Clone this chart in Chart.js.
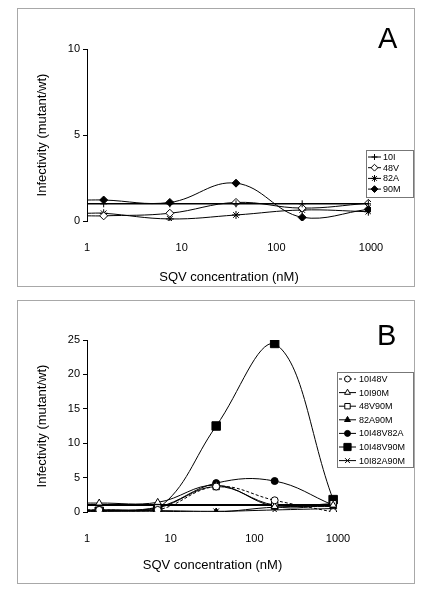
<!DOCTYPE html>
<html>
<head>
<meta charset="utf-8">
<script src="https://cdn.jsdelivr.net/npm/chart.js@4.4.1/dist/chart.umd.min.js"></script>
<style>
  body { margin: 0; background: #fff; width: 423px; height: 589px; position: relative; overflow: hidden; font-family: "Liberation Sans", Arial, sans-serif; }
  canvas { position: absolute; left: 0; }
  .box { position: absolute; border: 1px solid #a8a8a8; pointer-events: none; }
  .tag { position: absolute; font-size: 29px; line-height: 1; color: #000; }
</style>
</head>
<body>
<canvas id="chartA" width="423" height="291" style="top:0"></canvas>
<canvas id="chartB" width="423" height="298" style="top:291px"></canvas>
<div class="box" style="left:17px;top:8px;width:396px;height:277px"></div>
<div class="box" style="left:17px;top:300px;width:396px;height:282px"></div>
<div class="tag" style="left:378px;top:24px">A</div>
<div class="tag" style="left:377px;top:321px">B</div>
<script>
const FONT = "'Liberation Sans', Arial, sans-serif";

// panel A: single mutants (first point sits on the y axis, no marker)
const concA = [1, 1.5, 7.5, 37.5, 187.5, 937.5];
const mut10I = [1.0, 1.0, 1.0, 1.0, 1.0, 1.0];
const mut48V = [0.3, 0.3, 0.45, 1.08, 0.75, 1.03];
const mut82A = [0.45, 0.45, 0.12, 0.35, 0.64, 0.54];
const mut90M = [1.22, 1.22, 1.08, 2.2, 0.21, 0.68];

// panel B: double / triple mutants
const concB = [1, 1.4, 7, 35, 175, 875];
const m10I48V = [0.3, 0.3, 0.3, 3.7, 1.7, 0.0];
const m10I90M = [1.3, 1.3, 1.4, 3.9, 0.8, 1.0];
const m48V90M = [0.2, 0.2, 0.6, 3.7, 1.0, 1.2];
const m82A90M = [0.1, 0.1, 0.1, 0.0, 0.7, 0.8];
const m10I48V82A = [0.3, 0.3, 0.7, 4.2, 4.5, 1.0];
const m10I48V90M = [0.1, 0.1, 0.5, 12.5, 24.5, 1.8];
const m10I82A90M = [0.2, 0.2, 0.2, 0.1, 0.3, 0.5];
const wtConc = [1, 875];
const wtLevel = [1, 1];

const xTicks = [1, 10, 100, 1000];

function pts(xs, ys) {
  return xs.map((x, i) => ({ x: x, y: ys[i] }));
}

function series(label, xs, ys, style, fill, r, extra) {
  return Object.assign({
    label: label,
    data: pts(xs, ys),
    showLine: true,
    tension: 0.4,
    borderColor: "#000",
    borderWidth: 1,
    pointStyle: style,
    pointBackgroundColor: fill,
    pointBorderColor: "#000",
    pointBorderWidth: 1,
    pointRadius: xs.map((x, i) => (i === 0 ? 0 : r)),
    legendRadius: r,
  }, extra || {});
}

const boxLegend = {
  id: "boxLegend",
  afterDatasetsDraw(chart, args, o) {
    const ctx = chart.ctx;
    const items = chart.data.datasets.filter(d => !d.noLegend);
    ctx.save();
    ctx.fillStyle = "#fff";
    ctx.fillRect(o.x, o.y, o.w, o.h);
    ctx.strokeStyle = "#777";
    ctx.lineWidth = 1;
    ctx.strokeRect(o.x + 0.5, o.y + 0.5, o.w, o.h);
    items.forEach((ds, i) => {
      const cy = o.y + o.first + i * o.row;
      ctx.strokeStyle = "#000";
      ctx.lineWidth = 1;
      ctx.setLineDash(ds.borderDash || []);
      ctx.beginPath();
      ctx.moveTo(o.lx0, cy);
      ctx.lineTo(o.lx1, cy);
      ctx.stroke();
      ctx.setLineDash([]);
      ctx.fillStyle = ds.pointBackgroundColor;
      ctx.strokeStyle = "#000";
      Chart.helpers.drawPoint(ctx, { pointStyle: ds.pointStyle, radius: ds.legendRadius * 0.85, rotation: 0, borderWidth: 1 }, (o.lx0 + o.lx1) / 2, cy);
      ctx.fillStyle = "#000";
      ctx.font = o.size + "px " + FONT;
      ctx.textBaseline = "middle";
      ctx.fillText(ds.label, o.tx, cy + 0.5);
    });
    ctx.restore();
  }
};

function makeOptions(yMax, rightPad, xHeight, titlePad, legend) {
  return {
    responsive: false,
    animation: false,
    events: [],
    layout: { padding: { top: 49, right: rightPad, bottom: 0, left: 0 } },
    plugins: { legend: { display: false }, tooltip: { enabled: false }, boxLegend: legend },
    scales: {
      x: {
        type: "logarithmic",
        min: 1,
        max: 1000,
        afterBuildTicks: s => { s.ticks = xTicks.map(v => ({ value: v })); },
        afterFit: s => { s.height = xHeight; },
        grid: { display: false, drawTicks: false },
        border: { display: false },
        ticks: { color: "#000", font: { size: 11, family: FONT }, padding: 20, maxRotation: 0, autoSkip: false, callback: v => String(v) },
        title: { display: true, text: "SQV concentration (nM)", color: "#000", font: { size: 13, family: FONT }, padding: { top: 0, bottom: titlePad } }
      },
      y: {
        min: 0,
        max: yMax,
        afterFit: s => { s.width = 87; },
        grid: { drawOnChartArea: false, drawTicks: true, tickLength: 4, color: "#000" },
        border: { display: true, color: "#000", width: 1 },
        ticks: { stepSize: 5, color: "#000", font: { size: 11, family: FONT }, padding: 3 },
        title: { display: true, text: "Infectivity (mutant/wt)", color: "#000", font: { size: 13, family: FONT }, padding: { top: 35, bottom: 0 } }
      }
    }
  };
}

new Chart(document.getElementById("chartA").getContext("2d"), {
  type: "scatter",
  data: {
    datasets: [
      series("10I", concA, mut10I, "cross", "#000", 3.5, { borderWidth: 1.5 }),
      series("48V", concA, mut48V, "rectRot", "#fff", 4),
      series("82A", concA, mut82A, "star", "#000", 4),
      series("90M", concA, mut90M, "rectRot", "#000", 4),
    ]
  },
  options: makeOptions(10, 52, 70, 6, { x: 366, y: 150, w: 47, h: 47, first: 7, row: 10.7, lx0: 368, lx1: 381, tx: 383, size: 9 }),
  plugins: [boxLegend]
});

new Chart(document.getElementById("chartB").getContext("2d"), {
  type: "scatter",
  data: {
    datasets: [
      series("10I48V", concB, m10I48V, "circle", "#fff", 3.5, { borderDash: [3, 2] }),
      series("10I90M", concB, m10I90M, "triangle", "#fff", 4),
      series("48V90M", concB, m48V90M, "rect", "#fff", 4.5),
      series("82A90M", concB, m82A90M, "triangle", "#000", 4),
      series("10I48V82A", concB, m10I48V82A, "circle", "#000", 3.5),
      series("10I48V90M", concB, m10I48V90M, "rect", "#000", 6),
      series("10I82A90M", concB, m10I82A90M, "crossRot", "#000", 4),
      series("wt", wtConc, wtLevel, "circle", "#000", 0, { noLegend: true, borderWidth: 2, tension: 0 }),
    ]
  },
  options: makeOptions(25, 85, 77, 16, { x: 337, y: 81, w: 76, h: 95, first: 7, row: 13.6, lx0: 339, lx1: 356, tx: 359, size: 9 }),
  plugins: [boxLegend]
});
</script>
</body>
</html>
